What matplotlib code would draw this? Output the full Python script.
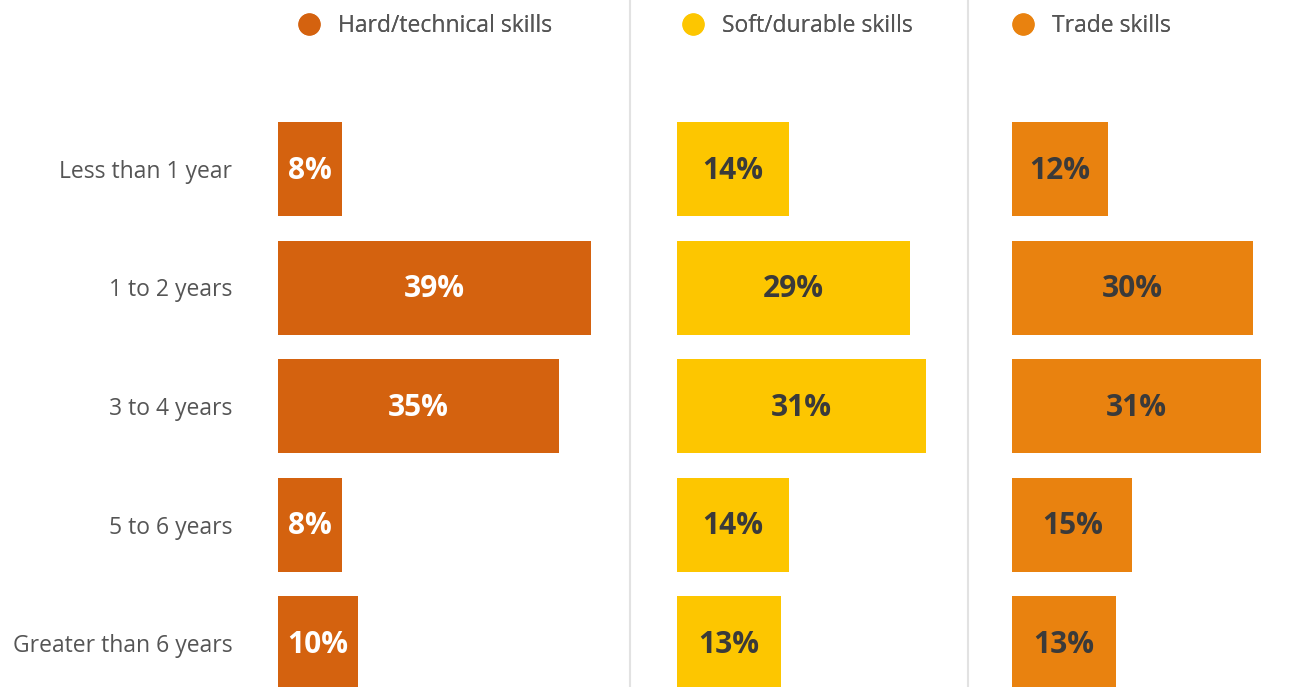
import matplotlib.pyplot as plt
from matplotlib.lines import Line2D

plt.rcParams['font.family'] = ['Open Sans', 'DejaVu Sans']

categories = ['Less than 1 year', '1 to 2 years', '3 to 4 years',
              '5 to 6 years', 'Greater than 6 years']
hard = [8, 39, 35, 8, 10]
soft = [14, 29, 31, 14, 13]
trade = [12, 30, 31, 15, 13]

series = [
    ('Hard/technical skills', hard, '#d4620f', 'white'),
    ('Soft/durable skills', soft, '#fdc600', '#3a3a3a'),
    ('Trade skills', trade, '#e9820f', '#3a3a3a'),
]

W, H = 1315, 687
fig = plt.figure(figsize=(W / 100, H / 100), dpi=100)

# panel extents in pixels (left, right) and legend dot x
panels = [(278, 630), (677, 968), (1012, 1315)]
legend_x = [309, 693, 1023]
px_per_pct = 8.03
row_px = 118.5
first_row = 169
y_top = -first_row / row_px
y_bot = (H - first_row) / row_px

for i, ((name, vals, color, txtcol), (l, r)) in enumerate(zip(series, panels)):
    ax = fig.add_axes([l / W, 0, (r - l) / W, 1])
    ypos = list(range(len(categories)))
    bars = ax.barh(ypos, vals, height=94 / row_px, color=color)
    for b, v in zip(bars, vals):
        ax.text(b.get_width() / 2, b.get_y() + b.get_height() / 2 + 0.015,
                f'{v}%', ha='center', va='center', fontsize=21.5,
                fontweight='bold', color=txtcol)
    ax.set_xlim(0, (r - l) / px_per_pct)
    ax.set_ylim(y_bot, y_top)
    ax.set_xticks([])
    for s in ['top', 'bottom', 'left']:
        ax.spines[s].set_visible(False)
    if i < 2:
        ax.spines['right'].set_color('#e2e2e2')
        ax.spines['right'].set_linewidth(1.5)
    else:
        ax.spines['right'].set_visible(False)
    if i == 0:
        ax.set_yticks(ypos, categories)
        ax.tick_params(axis='y', length=0, pad=33, labelsize=16.5,
                       labelcolor='#555555')
    else:
        ax.set_yticks([])
    handle = Line2D([], [], marker='o', linestyle='', color=color, markersize=15)
    leg = ax.legend([handle], [name], loc='center left',
                    bbox_to_anchor=((legend_x[i] - 32) / W, 1 - 26 / H),
                    bbox_transform=fig.transFigure, frameon=False,
                    fontsize=16.5, handletextpad=0.25, borderaxespad=0)
    for t in leg.get_texts():
        t.set_color('#555555')
    ax.add_artist(leg)

fig.savefig('out.png', dpi=100)
